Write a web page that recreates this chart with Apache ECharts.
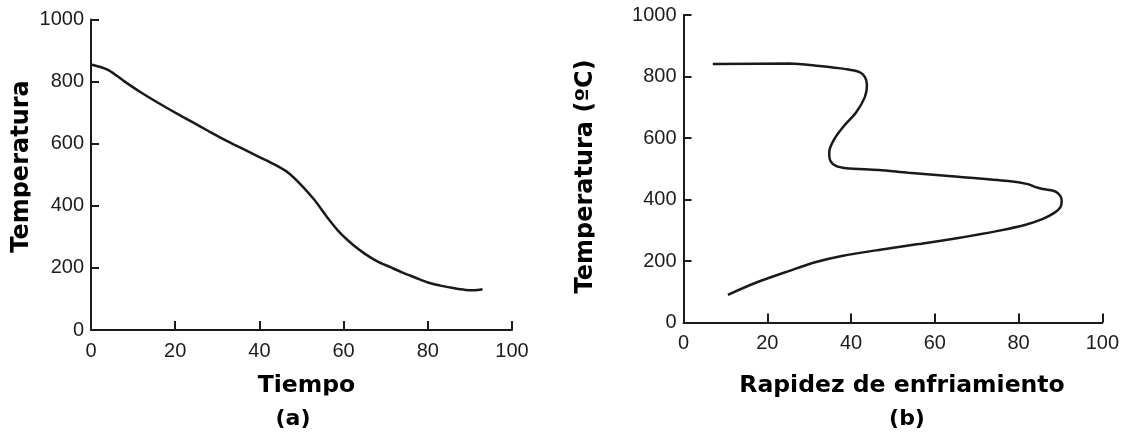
<!DOCTYPE html>
<html>
<head>
<meta charset="utf-8">
<title>Curvas de enfriamiento</title>
<script src="https://cdn.jsdelivr.net/npm/echarts@6/dist/echarts.min.js"></script>
<style>
  html, body { margin: 0; padding: 0; background: #fff; }
  #chart { width: 1122px; height: 440px; }
</style>
</head>
<body>
<div id="chart"></div>
<script>
// (a) Temperatura frente a tiempo
const tiempo = [0, 4, 8, 12, 16, 20, 24, 28, 32, 36, 40, 44, 47, 50, 53, 56, 59, 62, 65, 68, 71, 74, 77, 80, 83, 86, 89, 91, 93];
const temperaturaA = [855, 838, 800, 764, 731, 700, 670, 640, 611, 584, 557, 530, 505, 466, 420, 365, 315, 277, 246, 221, 203, 185, 169, 153, 143, 135, 129, 128, 131];

// (b) Temperatura frente a rapidez de enfriamiento (curva recorrida de arriba abajo)
const rapidez = [7, 25.3, 32.4, 38.8, 41.9, 43.3, 43.8, 43.3, 41.2, 38.3, 35.9, 34.8, 35, 36.4, 38.8, 46.6, 53.7, 65.6, 77.5, 82.2, 83.9, 85.8, 88.8, 90, 90.3, 90, 88.8, 85.8, 81.5, 75.1, 65.6, 56.1, 46.6, 37.8, 31.2, 25.3, 17.4, 10.6];
const temperaturaB = [841, 842, 834, 824, 815, 799, 772, 733, 683, 639, 594, 554, 528, 509, 502, 496, 487, 474, 460, 450, 441, 434, 426, 411, 395, 375, 359, 337, 317, 298, 275, 255, 236, 216, 195, 168, 130, 90];

// Ejes
const xTicks = [0, 20, 40, 60, 80, 100];
const yTicks = [0, 200, 400, 600, 800, 1000];

const titulos = {
  ejeXA: 'Tiempo',
  ejeYA: 'Temperatura',
  ejeXB: 'Rapidez de enfriamiento',
  ejeYB: 'Temperatura (ºC)',
  panelA: '(a)',
  panelB: '(b)'
};

const ink = '#1a1a1a';
const tickFont = "'Liberation Sans', Arial, sans-serif";
const nameFont = "'DejaVu Sans', Verdana, sans-serif";

function zip(a, b) { return a.map((v, i) => [v, b[i]]); }

function axisLabelStyle(margin) {
  return {
    color: '#1c1c1c', fontFamily: tickFont, fontSize: 20, margin,
    formatter: v => String(v)
  };
}

function xAxisFor(gridIndex) {
  return {
    gridIndex, type: 'value',
    min: xTicks[0], max: xTicks[xTicks.length - 1], interval: xTicks[1] - xTicks[0],
    axisLine: { show: true, onZero: false, lineStyle: { color: ink, width: 2 } },
    axisTick: { show: true, inside: true, length: 9, lineStyle: { color: ink, width: 2 } },
    axisLabel: axisLabelStyle(11),
    splitLine: { show: false }
  };
}
function yAxisFor(gridIndex) {
  return {
    gridIndex, type: 'value',
    min: yTicks[0], max: yTicks[yTicks.length - 1], interval: yTicks[1] - yTicks[0],
    axisLine: { show: true, onZero: false, lineStyle: { color: ink, width: 2 } },
    axisTick: { show: true, inside: true, length: 8, lineStyle: { color: ink, width: 2 } },
    axisLabel: axisLabelStyle(7),
    splitLine: { show: false }
  };
}

function label(text, x, y, size, rotation) {
  return {
    type: 'text', x, y, rotation: rotation || 0, z: 10,
    style: {
      text, fill: '#000', font: 'bold ' + size + 'px ' + nameFont,
      align: 'center', verticalAlign: 'middle'
    }
  };
}
// white band that trims the descenders of the axis titles
function mask(x, y, width, height) {
  return { type: 'rect', z: 20, shape: { x, y, width, height }, style: { fill: '#fff' } };
}

const chart = echarts.init(document.getElementById('chart'), null, { renderer: 'canvas' });
chart.setOption({
  animation: false,
  backgroundColor: '#fff',
  grid: [
    { left: 91, top: 19.5, width: 421, height: 310.5 },
    { left: 683.5, top: 15, width: 421.5, height: 307.5 }
  ],
  xAxis: [xAxisFor(0), xAxisFor(1)],
  yAxis: [yAxisFor(0), yAxisFor(1)],
  series: [
    {
      type: 'line', xAxisIndex: 0, yAxisIndex: 0,
      data: zip(tiempo, temperaturaA),
      smooth: 0.3, showSymbol: false,
      lineStyle: { color: ink, width: 2.5 }
    },
    {
      type: 'line', xAxisIndex: 1, yAxisIndex: 1,
      data: zip(rapidez, temperaturaB),
      smooth: 0.3, showSymbol: false,
      lineStyle: { color: ink, width: 2.5 }
    }
  ],
  graphic: [
    label(titulos.ejeXA, 306.5, 386, 23.5),
    mask(250, 395.5, 115, 9),
    label(titulos.ejeYA, 21.4, 166.5, 24, Math.PI / 2),
    mask(30.5, 72, 10, 190),
    label(titulos.ejeXB, 902, 386, 23.5),
    label(titulos.ejeYB, 585.4, 176.5, 24, Math.PI / 2),
    mask(594.5, 48, 10, 258),
    label(titulos.panelA, 293, 419, 22),
    label(titulos.panelB, 907, 419, 22)
  ]
});
</script>
</body>
</html>
